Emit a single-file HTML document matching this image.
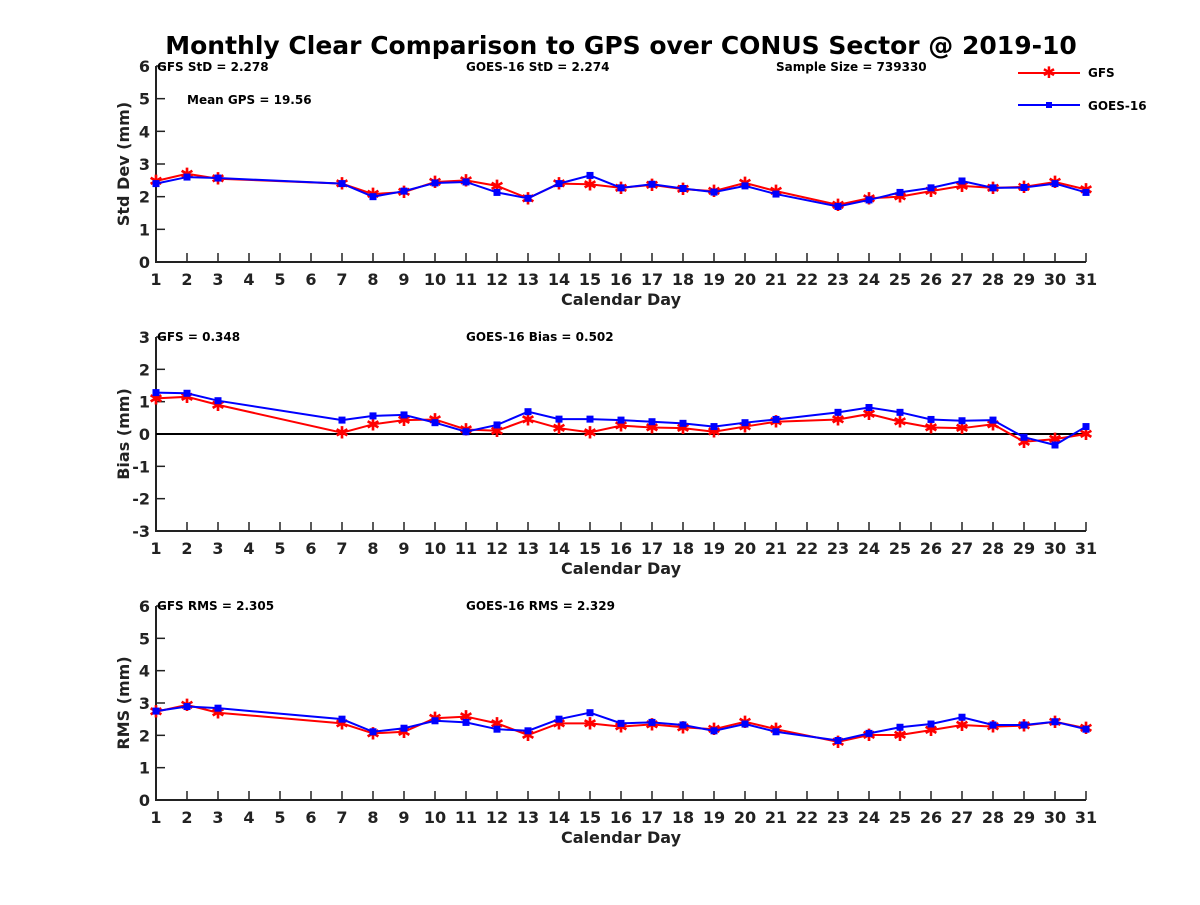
<!DOCTYPE html>
<html><head><meta charset="utf-8"><style>
body{margin:0;background:#fff;}
svg{font-family:"DejaVu Sans","Liberation Sans",sans-serif;font-weight:bold;}
</style></head><body>
<svg id="chart" width="1200" height="900" viewBox="0 0 1200 900" xmlns="http://www.w3.org/2000/svg">
<rect width="1200" height="900" fill="#fff"/>
<text x="621" y="54" font-size="25" text-anchor="middle">Monthly Clear Comparison to GPS over CONUS Sector @ 2019-10</text>
<g id="legend">
<g>
<line x1="1018" y1="73" x2="1080" y2="73" stroke="#f00" stroke-width="2"/>
<text x="1049" y="78" fill="#f00" font-size="16" text-anchor="middle" font-weight="normal">✱</text>
<text x="1088" y="77" font-size="12">GFS</text></g>
<g>
<line x1="1018" y1="105" x2="1080" y2="105" stroke="#00f" stroke-width="2"/>
<rect x="1046" y="102" width="6" height="6" fill="#00f"/>
<text x="1088" y="110" font-size="12">GOES-16</text></g>
</g>
</svg>
<script>
const days = [1,2,3,7,8,9,10,11,12,13,14,15,16,17,18,19,20,21,23,24,25,26,27,28,29,30,31];
const xTicks = [1,2,3,4,5,6,7,8,9,10,11,12,13,14,15,16,17,18,19,20,21,22,23,24,25,26,27,28,29,30,31];
const gfsStd = [2.48,2.7,2.55,2.4,2.08,2.14,2.45,2.5,2.33,1.95,2.4,2.38,2.27,2.36,2.23,2.17,2.42,2.17,1.75,1.95,2.0,2.17,2.33,2.27,2.3,2.45,2.22];
const goesStd = [2.4,2.6,2.57,2.4,2.0,2.17,2.42,2.45,2.13,1.95,2.4,2.65,2.27,2.38,2.25,2.14,2.33,2.08,1.7,1.9,2.13,2.27,2.48,2.27,2.28,2.4,2.13];
const gfsBias = [1.1,1.15,0.9,0.04,0.3,0.43,0.45,0.14,0.1,0.45,0.18,0.05,0.26,0.2,0.18,0.07,0.23,0.38,0.45,0.62,0.38,0.2,0.18,0.3,-0.24,-0.16,0.0];
const goesBias = [1.28,1.26,1.03,0.43,0.56,0.59,0.35,0.07,0.28,0.69,0.46,0.46,0.43,0.38,0.33,0.23,0.35,0.45,0.67,0.82,0.67,0.45,0.41,0.43,-0.1,-0.34,0.23];
const gfsRms = [2.73,2.94,2.7,2.37,2.06,2.11,2.53,2.58,2.37,2.01,2.37,2.37,2.27,2.34,2.25,2.19,2.42,2.19,1.8,2.01,2.01,2.16,2.32,2.27,2.3,2.42,2.22];
const goesRms = [2.75,2.89,2.84,2.5,2.11,2.22,2.45,2.4,2.19,2.14,2.5,2.7,2.37,2.4,2.32,2.14,2.35,2.11,1.84,2.06,2.25,2.35,2.56,2.32,2.32,2.42,2.19];
const stdTicks = [0,1,2,3,4,5,6];
const biasTicks = [-3,-2,-1,0,1,2,3];
const rmsTicks = [0,1,2,3,4,5,6];

const NS="http://www.w3.org/2000/svg";
const svg=document.getElementById('chart');
function el(tag,attrs,parent){const e=document.createElementNS(NS,tag);for(const k in attrs)e.setAttribute(k,attrs[k]);(parent||svg).appendChild(e);return e;}
const X0=156,X1=1086;
function xs(d){return X0+(d-1)*(X1-X0)/30;}

function panel(name,top,bottom,ticks,ylabel,gfs,goes,notes,zeroLine){
  const lo=ticks[0],hi=ticks[ticks.length-1];
  const ys=v=>bottom-(v-lo)*(bottom-top)/(hi-lo);
  const g=el('g',{});
  
  
  const ax=el('path',{d:`M${X0},${top} V${bottom} H${X1}`,stroke:'#222',fill:'none','stroke-width':2},g);
  
  
  xTicks.forEach(d=>{
    const t=el('line',{x1:xs(d),x2:xs(d),y1:bottom,y2:bottom-9,stroke:'#222','stroke-width':1.5},g);
    
    
    const l=el('text',{x:xs(d),y:bottom+23,'font-size':16,'text-anchor':'middle',fill:'#222'},g);
    
    
    l.textContent=d;
  });
  ticks.forEach(v=>{
    const t=el('line',{x1:X0,x2:X0+9,y1:ys(v),y2:ys(v),stroke:'#222','stroke-width':1.5},g);
    
    
    const l=el('text',{x:X0-6,y:ys(v)+6,'font-size':16,'text-anchor':'end',fill:'#222'},g);
    
    
    l.textContent=v;
  });
  const xl=el('text',{x:621,y:bottom+43,'font-size':16,'text-anchor':'middle',fill:'#222'},g);
  
  
  xl.textContent='Calendar Day';
  const cy=(top+bottom)/2;
  const yl=el('text',{x:0,y:0,'font-size':16,'text-anchor':'middle',fill:'#222',transform:`translate(129,${cy}) rotate(-90)`},g);
  
  
  yl.textContent=ylabel;
  if(zeroLine){
    const z=el('line',{x1:X0,x2:X1,y1:ys(0),y2:ys(0),stroke:'#000','stroke-width':2},g);
    
    
  }
  notes.forEach(n=>{
    const t=el('text',{x:n[0],y:n[1],'font-size':12,fill:'#000'},g);
    
    
    t.textContent=n[2];
  });
  [[gfs,'#f00','gfs'],[goes,'#00f','goes16']].forEach(([vals,col,sn])=>{
    const p=el('polyline',{points:days.map((d,i)=>xs(d)+','+ys(vals[i])).join(' '),fill:'none',stroke:col,'stroke-width':2},g);
    
    
    days.forEach((d,i)=>{
      let m;
      if(sn==='gfs'){
        m=el('text',{x:xs(d),y:ys(vals[i])+6,'font-size':17,'text-anchor':'middle',fill:col,'font-weight':'normal'},g);
        m.textContent='✱';
      } else {
        m=el('rect',{x:xs(d)-3.5,y:ys(vals[i])-3.5,width:7,height:7,fill:col},g);
      }
      
      
    });
  });
}
panel('std',66,262,stdTicks,'Std Dev (mm)',gfsStd,goesStd,[[157,71,'GFS StD = 2.278'],[466,71,'GOES-16 StD = 2.274'],[776,71,'Sample Size = 739330'],[187,104,'Mean GPS = 19.56']],false);
panel('bias',337,531,biasTicks,'Bias (mm)',gfsBias,goesBias,[[157,341,'GFS = 0.348'],[466,341,'GOES-16 Bias = 0.502']],true);
panel('rms',606,800,rmsTicks,'RMS (mm)',gfsRms,goesRms,[[157,610,'GFS RMS = 2.305'],[466,610,'GOES-16 RMS = 2.329']],false);
svg.appendChild(document.getElementById('legend'));
</script>
</body></html>
